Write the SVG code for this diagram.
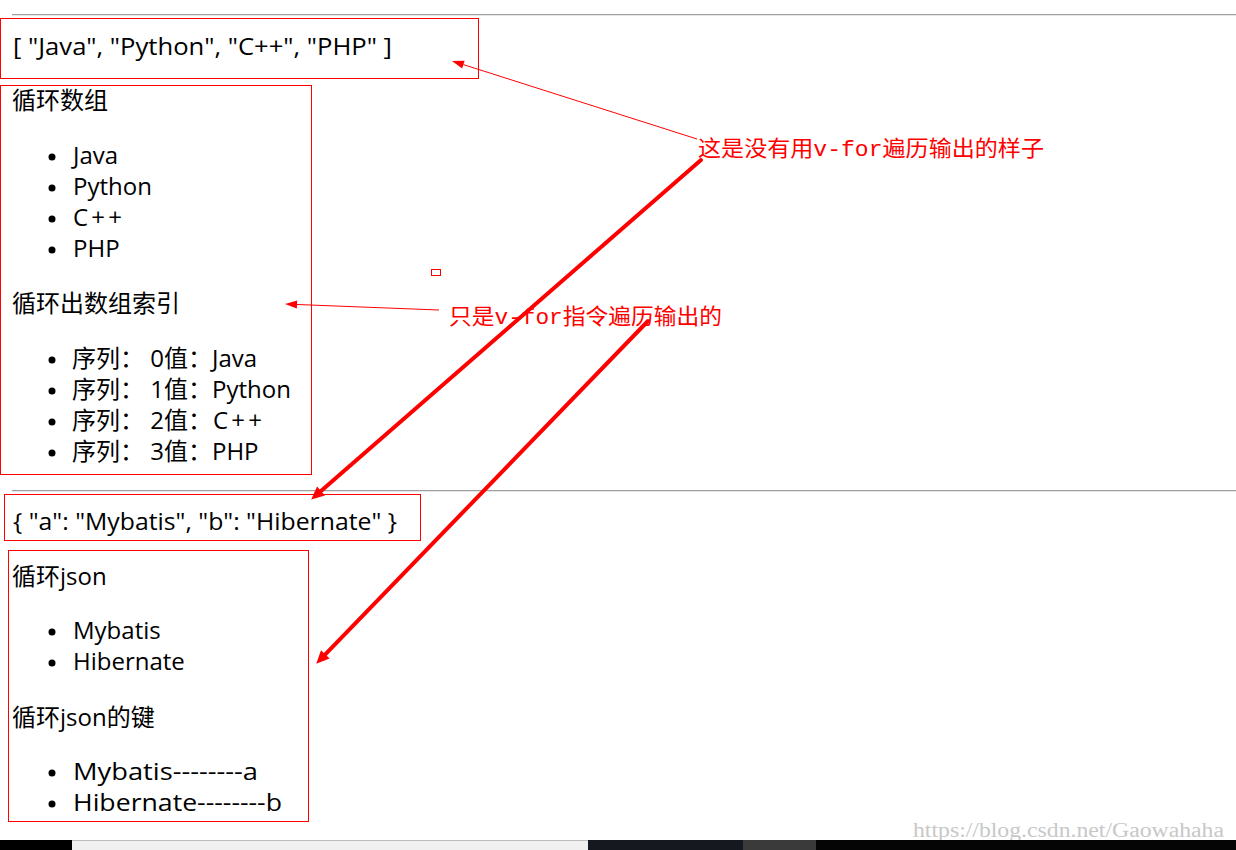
<svg xmlns="http://www.w3.org/2000/svg" width="1236" height="850" viewBox="0 0 1236 850">
<style>
.box{fill:none;stroke:#ff0000;stroke-width:1}
.t{font-family:"Open Sans","Noto Sans CJK SC",sans-serif;font-size:24px;fill:#000}
.ann{font-family:"Noto Sans CJK SC",sans-serif;font-size:22px;fill:#ff0000}
.mono{font-family:"Liberation Mono",monospace}
.hr1{stroke:#a0a0a0;stroke-width:1}
.hr2{stroke:#e6e6e6;stroke-width:1}
.thin{stroke:#ff0000;stroke-width:1;fill:none}
.thick{stroke:#ff0000;stroke-width:4;fill:none;stroke-linecap:round}
.dot{fill:#000}
</style>
<defs>
<marker id="thinHead" markerUnits="userSpaceOnUse" markerWidth="14" markerHeight="10" viewBox="0 -5 14 10" refX="0" refY="0" orient="auto" overflow="visible">
<path d="M0,-4 L12,0 L0,4 Z" fill="#ff0000"/>
</marker>
<marker id="thickHead" markerUnits="userSpaceOnUse" markerWidth="16" markerHeight="14" viewBox="0 -7 16 14" refX="0" refY="0" orient="auto" overflow="visible">
<path d="M0,-6 L13,0 L0,6 Z" fill="#ff0000"/>
</marker>
</defs>
<rect width="1236" height="850" fill="#ffffff"/>

<g id="separators">
<line class="hr1" x1="12" y1="14.5" x2="1236" y2="14.5"/>
<line class="hr2" x1="12" y1="15.5" x2="1236" y2="15.5"/>
<line class="hr1" x1="12" y1="490.5" x2="1236" y2="490.5"/>
<line class="hr2" x1="12" y1="491.5" x2="1236" y2="491.5"/>
</g>

<g id="array-raw">
<rect class="box" x="0.5" y="18.5" width="478" height="60"/>
<text class="t" x="13" y="55" textLength="379" lengthAdjust="spacingAndGlyphs">[ "Java", "Python", "C++", "PHP" ]</text>
</g>

<g id="array-loop">
<rect class="box" x="0.5" y="85.5" width="311" height="389"/>
<text class="t" x="12" y="109">循环数组</text>
<circle class="dot" cx="52" cy="157" r="3.5"/>
<text class="t" x="73" y="164">Java</text>
<circle class="dot" cx="52" cy="188" r="3.5"/>
<text class="t" x="73" y="195">Python</text>
<circle class="dot" cx="52" cy="219" r="3.5"/>
<text class="t" x="73" y="226" textLength="49" lengthAdjust="spacing">C++</text>
<circle class="dot" cx="52" cy="250" r="3.5"/>
<text class="t" x="73" y="257">PHP</text>
<text class="t" x="12" y="312">循环出数组索引</text>
<circle class="dot" cx="52" cy="360" r="3.5"/>
<text class="t" x="72" y="367">序列： 0值：Java</text>
<circle class="dot" cx="52" cy="391" r="3.5"/>
<text class="t" x="72" y="398">序列： 1值：Python</text>
<circle class="dot" cx="52" cy="422" r="3.5"/>
<text class="t" x="72" y="429">序列： 2值：<tspan x="213" textLength="49" lengthAdjust="spacing">C++</tspan></text>
<circle class="dot" cx="52" cy="453" r="3.5"/>
<text class="t" x="72" y="460">序列： 3值：PHP</text>
</g>

<g id="marker-rect">
<rect class="box" x="431.5" y="269.5" width="9" height="6"/>
</g>

<g id="json-raw">
<rect class="box" x="4.5" y="494.5" width="416" height="46"/>
<text class="t" x="13" y="530" textLength="384" lengthAdjust="spacingAndGlyphs">{ "a": "Mybatis", "b": "Hibernate" }</text>
</g>

<g id="json-loop">
<rect class="box" x="8.5" y="550.5" width="300" height="271"/>
<text class="t" x="12" y="585">循环json</text>
<circle class="dot" cx="52" cy="632" r="3.5"/>
<text class="t" x="73" y="639">Mybatis</text>
<circle class="dot" cx="52" cy="663" r="3.5"/>
<text class="t" x="73" y="670">Hibernate</text>
<text class="t" x="12" y="726">循环json的键</text>
<circle class="dot" cx="52" cy="773" r="3.5"/>
<text class="t" x="73" y="780" textLength="185" lengthAdjust="spacingAndGlyphs">Mybatis--------a</text>
<circle class="dot" cx="52" cy="804" r="3.5"/>
<text class="t" x="73" y="811" textLength="209" lengthAdjust="spacingAndGlyphs">Hibernate--------b</text>
</g>

<g id="note-raw">
<text class="ann" x="698" y="156" textLength="346" lengthAdjust="spacingAndGlyphs">这是没有用<tspan class="mono">v-for</tspan>遍历输出的样子</text>
</g>

<g id="note-vfor">
<text class="ann" x="449" y="324" textLength="273" lengthAdjust="spacingAndGlyphs">只是<tspan class="mono">v-for</tspan>指令遍历输出的</text>
</g>

<g id="connectors">
<line class="thin" x1="697" y1="139" x2="463.4" y2="64.6" marker-end="url(#thinHead)"/>
<line class="thin" x1="439" y1="310" x2="297" y2="304.5" marker-end="url(#thinHead)"/>
<line class="thick" x1="701" y1="160" x2="321" y2="491" marker-end="url(#thickHead)"/>
<line class="thick" x1="648" y1="321" x2="325.3" y2="654.4" marker-end="url(#thickHead)"/>
</g>

<g id="footer">
<text x="913" y="837" font-family="Liberation Serif, serif" font-size="20" fill="#c8c8c8" textLength="311" lengthAdjust="spacingAndGlyphs">https://blog.csdn.net/Gaowahaha</text>
<rect x="0" y="840" width="72" height="10" fill="#000000"/>
<rect x="72" y="840" width="516" height="10" fill="#f0f0f0"/>
<line x1="72" y1="840.5" x2="588" y2="840.5" stroke="#bdbdbd" stroke-width="1"/>
<rect x="588" y="840" width="155" height="10" fill="#15181e"/>
<rect x="743" y="840" width="73" height="10" fill="#3a3a3a"/>
<rect x="816" y="840" width="420" height="10" fill="#050505"/>
</g>
</svg>
